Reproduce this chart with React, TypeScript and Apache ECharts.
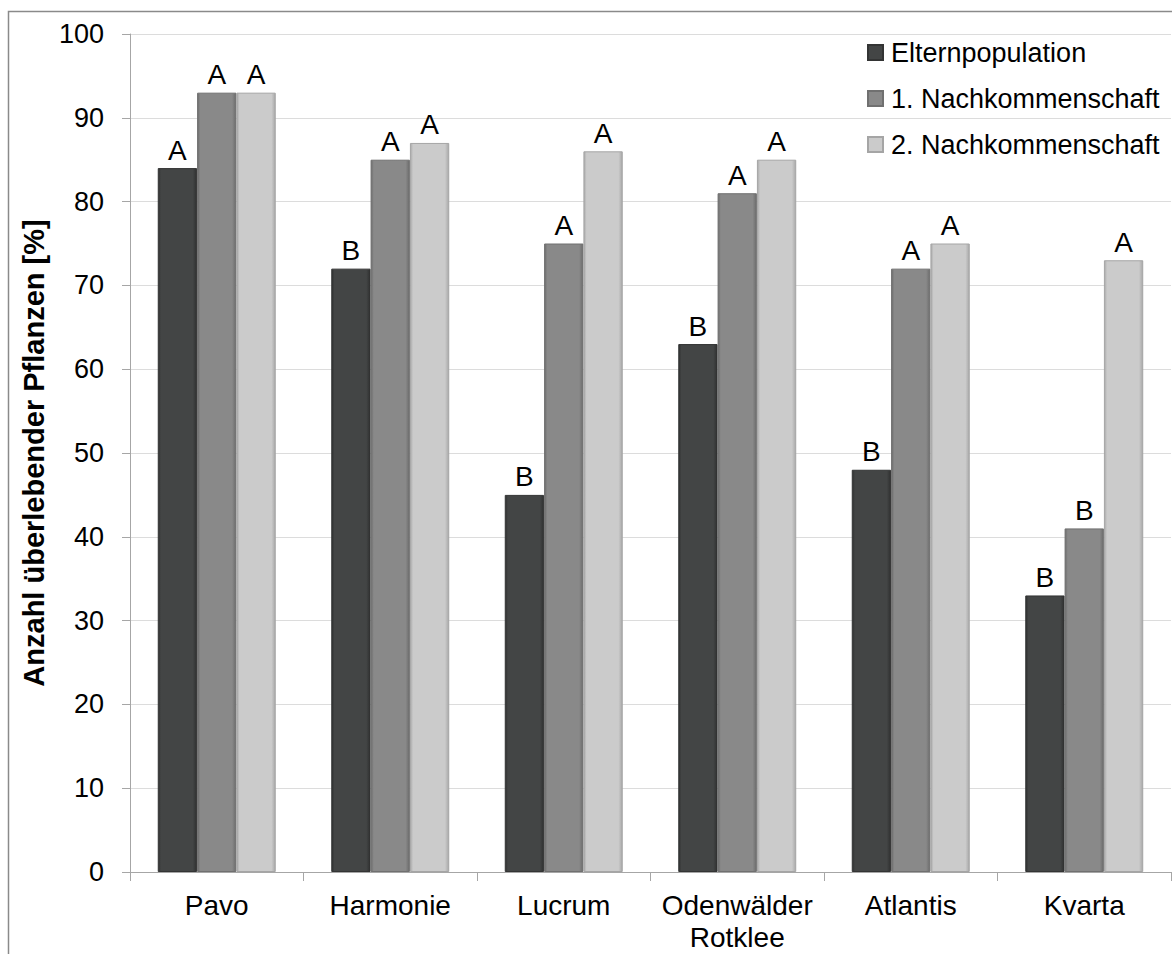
import React, { useEffect, useRef } from "react";
import * as echarts from "echarts";

const categories = ["Pavo", "Harmonie", "Lucrum", "Odenwälder\nRotklee", "Atlantis", "Kvarta"];
const seriesNames = ["Elternpopulation", "1. Nachkommenschaft", "2. Nachkommenschaft"];
const eltern = [84, 72, 45, 63, 48, 33];
const nach1 = [93, 85, 75, 81, 72, 41];
const nach2 = [93, 87, 86, 85, 75, 73];
const elternLetters = ["A", "B", "B", "B", "B", "B"];
const nach1Letters = ["A", "A", "A", "A", "A", "B"];
const nach2Letters = ["A", "A", "A", "A", "A", "A"];
const yTicks = [0, 10, 20, 30, 40, 50, 60, 70, 80, 90, 100];

const FONT = "Liberation Sans, Arial, sans-serif";

function grad(edge: string, base: string) {
  return new echarts.graphic.LinearGradient(0, 0, 1, 0, [
    { offset: 0, color: edge },
    { offset: 0.07, color: base },
    { offset: 0.9, color: base },
    { offset: 1, color: edge },
  ]);
}

export default function App() {
  const ref = useRef<HTMLDivElement>(null);
  useEffect(() => {
    if (!ref.current) return;
    const chart = echarts.init(ref.current, undefined, { renderer: "svg" });
    const styles = [
      { base: "#434545", edge: "#2f3030", border: "#333434" },
      { base: "#898989", edge: "#6c6c6c", border: "#707070" },
      { base: "#cbcbcb", edge: "#a9a9a9", border: "#a5a5a5" },
    ];
    const values = [eltern, nach1, nach2];
    const letters = [elternLetters, nach1Letters, nach2Letters];
    chart.setOption({
      animation: false,
      backgroundColor: "#ffffff",
      graphic: [
        {
          type: "rect",
          shape: { x: 8.5, y: 11.5, width: 1200, height: 1000 },
          style: { fill: "none", stroke: "#8a8a8a", lineWidth: 1.5 },
          silent: true,
        },
      ],
      grid: { left: 130, right: 1, top: 34, bottom: 82, containLabel: false },
      legend: {
        orient: "vertical",
        left: 862,
        top: 34,
        itemWidth: 15,
        itemHeight: 15,
        itemGap: 19,
        icon: "rect",
        textStyle: { fontFamily: FONT, fontSize: 27, color: "#000", padding: [0, 0, 0, 3] },
        data: seriesNames,
      },
      xAxis: {
        type: "category",
        data: categories,
        axisLine: { show: true, lineStyle: { color: "#a6a6a6", width: 1 } },
        axisTick: { show: true, alignWithLabel: false, length: 9, lineStyle: { color: "#a6a6a6" } },
        axisLabel: {
          fontFamily: FONT,
          fontSize: 28,
          color: "#000",
          margin: 17,
          lineHeight: 32,
          interval: 0,
        },
      },
      yAxis: {
        type: "value",
        min: 0,
        max: 100,
        interval: 10,
        name: "Anzahl überlebender Pflanzen [%]",
        nameLocation: "middle",
        nameGap: 75,
        nameTextStyle: { fontFamily: FONT, fontSize: 29, fontWeight: "bold", color: "#000" },
        axisLine: { show: true, lineStyle: { color: "#a6a6a6", width: 1 } },
        axisTick: { show: true, length: 8, lineStyle: { color: "#a6a6a6" } },
        axisLabel: {
          fontFamily: FONT,
          fontSize: 27,
          color: "#000",
          margin: 26,
          formatter: (v: number) => (yTicks.includes(v) ? String(v) : ""),
        },
        splitLine: { show: true, lineStyle: { color: "#dcdcdc", width: 1 } },
      },
      series: seriesNames.map((name, i) => ({
        name,
        type: "bar",
        data: values[i],
        barGap: "0%",
        barCategoryGap: "32%",
        itemStyle: {
          color: grad(styles[i].edge, styles[i].base),
          borderColor: styles[i].border,
          borderWidth: 1,
        },
        label: {
          show: true,
          position: "top",
          distance: 4,
          fontFamily: FONT,
          fontSize: 28,
          color: "#000",
          formatter: (p: any) => letters[i][p.dataIndex],
        },
      })),
    });
    return () => chart.dispose();
  }, []);
  return (
    <div
      ref={ref}
      style={{ position: "fixed", left: 0, top: 0, width: 1172, height: 954 }}
    />
  );
}
